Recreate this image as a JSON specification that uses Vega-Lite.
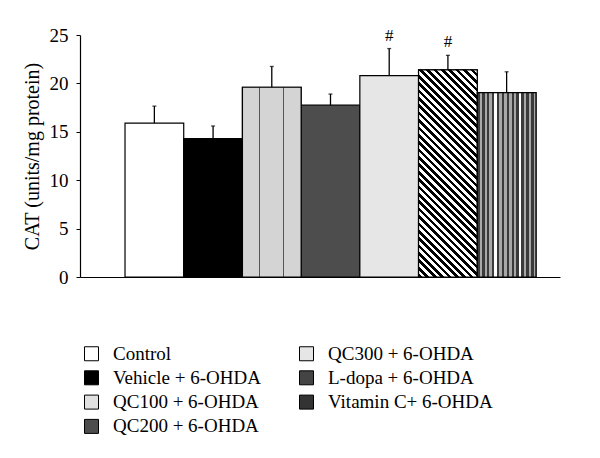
{
  "$schema": "https://vega.github.io/schema/vega-lite/v6.json",
  "width": 480,
  "height": 242,
  "autosize": {"type": "none"},
  "padding": {"left": 80, "top": 35, "right": 40, "bottom": 181},
  "background": "white",
  "config": {
    "view": {"stroke": null},
    "font": "Liberation Serif",
    "axis": {"labelFont": "Liberation Serif", "titleFont": "Liberation Serif", "labelColor": "black", "titleColor": "black", "domainColor": "black", "tickColor": "black", "grid": false}
  },
  "data": {
    "values": [
      {"group": "Control", "cat": 15.9, "upper": 17.65, "sig": ""},
      {"group": "Vehicle + 6-OHDA", "cat": 14.3, "upper": 15.6, "sig": ""},
      {"group": "QC100 + 6-OHDA", "cat": 19.6, "upper": 21.75, "sig": ""},
      {"group": "QC200 + 6-OHDA", "cat": 17.75, "upper": 18.9, "sig": ""},
      {"group": "QC300 + 6-OHDA", "cat": 20.8, "upper": 23.6, "sig": "#"},
      {"group": "L-dopa + 6-OHDA", "cat": 21.4, "upper": 22.9, "sig": "#"},
      {"group": "Vitamin C+ 6-OHDA", "cat": 19.05, "upper": 21.2, "sig": ""}
    ]
  },
  "encoding": {
    "x": {
      "field": "group",
      "type": "nominal",
      "sort": ["Control", "Vehicle + 6-OHDA", "QC100 + 6-OHDA", "QC200 + 6-OHDA", "QC300 + 6-OHDA", "L-dopa + 6-OHDA", "Vitamin C+ 6-OHDA"],
      "scale": {"paddingInner": 0, "paddingOuter": 0.588, "align": 0.652},
      "axis": {"labels": false, "ticks": false, "title": null, "domainWidth": 1.2}
    }
  },
  "layer": [
    {
      "mark": {"type": "bar", "stroke": "black", "strokeWidth": 1.2},
      "encoding": {
        "y": {
          "field": "cat",
          "type": "quantitative",
          "title": "CAT (units/mg protein)",
          "scale": {"domain": [0, 25], "nice": false},
          "axis": {"values": [0, 5, 10, 15, 20, 25], "tickSize": 4, "labelPadding": 8, "labelFontSize": 19, "titleFontSize": 20, "titleFontWeight": "normal", "titleColor": "#000000", "titlePadding": 7, "domainWidth": 1.2}
        },
        "color": {
          "field": "group",
          "type": "nominal",
          "scale": {
            "domain": ["Control", "Vehicle + 6-OHDA", "QC100 + 6-OHDA", "QC200 + 6-OHDA", "QC300 + 6-OHDA", "L-dopa + 6-OHDA", "Vitamin C+ 6-OHDA"],
            "range": ["#ffffff", "#000000", "#e0e0e0", "#4d4d4d", "#e6e6e6", "#444444", "#333333"]
          },
          "legend": {
            "orient": "none", "legendX": 2, "legendY": 309, "columns": 2, "title": null,
            "symbolType": "square", "symbolSize": 196, "symbolStrokeColor": "black", "symbolStrokeWidth": 1,
            "labelFont": "Liberation Serif", "labelFontSize": 19, "labelColor": "black", "labelOffset": 12,
            "columnPadding": 36, "rowPadding": 4.3, "labelLimit": 300, "padding": 0
          }
        }
      }
    },
    {
      "transform": [{"filter": "datum.group == 'QC100 + 6-OHDA'"}],
      "mark": {
        "type": "bar", "stroke": "black", "strokeWidth": 1.2,
        "fill": {"gradient": "linear", "x1": 0, "y1": 0, "x2": 1, "y2": 0, "stops": [
          {"offset": 0, "color": "#d4d4d4"}, {"offset": 0.28, "color": "#d4d4d4"}, {"offset": 0.28, "color": "#555555"}, {"offset": 0.3, "color": "#555555"}, {"offset": 0.3, "color": "#d4d4d4"},
          {"offset": 0.69, "color": "#d4d4d4"}, {"offset": 0.69, "color": "#555555"}, {"offset": 0.71, "color": "#555555"}, {"offset": 0.71, "color": "#d4d4d4"}, {"offset": 1, "color": "#d4d4d4"}
        ]}
      },
      "encoding": {"y": {"field": "cat", "type": "quantitative", "title": "CAT (units/mg protein)"}}
    },
    {
      "transform": [{"filter": "datum.group == 'L-dopa + 6-OHDA'"}],
      "mark": {
        "type": "bar", "stroke": "black", "strokeWidth": 1.2,
        "fill": {"gradient": "linear", "x1": 0, "y1": 1, "x2": 0.3365, "y2": -0.1879, "stops": [
          {"offset": 0, "color": "#000"}, {"offset": 0.0139, "color": "#000"}, {"offset": 0.0139, "color": "#fff"}, {"offset": 0.0278, "color": "#fff"},
          {"offset": 0.0278, "color": "#000"}, {"offset": 0.0417, "color": "#000"}, {"offset": 0.0417, "color": "#fff"}, {"offset": 0.0556, "color": "#fff"},
          {"offset": 0.0556, "color": "#000"}, {"offset": 0.0694, "color": "#000"}, {"offset": 0.0694, "color": "#fff"}, {"offset": 0.0833, "color": "#fff"},
          {"offset": 0.0833, "color": "#000"}, {"offset": 0.0972, "color": "#000"}, {"offset": 0.0972, "color": "#fff"}, {"offset": 0.1111, "color": "#fff"},
          {"offset": 0.1111, "color": "#000"}, {"offset": 0.125, "color": "#000"}, {"offset": 0.125, "color": "#fff"}, {"offset": 0.1389, "color": "#fff"},
          {"offset": 0.1389, "color": "#000"}, {"offset": 0.1528, "color": "#000"}, {"offset": 0.1528, "color": "#fff"}, {"offset": 0.1667, "color": "#fff"},
          {"offset": 0.1667, "color": "#000"}, {"offset": 0.1806, "color": "#000"}, {"offset": 0.1806, "color": "#fff"}, {"offset": 0.1944, "color": "#fff"},
          {"offset": 0.1944, "color": "#000"}, {"offset": 0.2083, "color": "#000"}, {"offset": 0.2083, "color": "#fff"}, {"offset": 0.2222, "color": "#fff"},
          {"offset": 0.2222, "color": "#000"}, {"offset": 0.2361, "color": "#000"}, {"offset": 0.2361, "color": "#fff"}, {"offset": 0.25, "color": "#fff"},
          {"offset": 0.25, "color": "#000"}, {"offset": 0.2639, "color": "#000"}, {"offset": 0.2639, "color": "#fff"}, {"offset": 0.2778, "color": "#fff"},
          {"offset": 0.2778, "color": "#000"}, {"offset": 0.2917, "color": "#000"}, {"offset": 0.2917, "color": "#fff"}, {"offset": 0.3056, "color": "#fff"},
          {"offset": 0.3056, "color": "#000"}, {"offset": 0.3194, "color": "#000"}, {"offset": 0.3194, "color": "#fff"}, {"offset": 0.3333, "color": "#fff"},
          {"offset": 0.3333, "color": "#000"}, {"offset": 0.3472, "color": "#000"}, {"offset": 0.3472, "color": "#fff"}, {"offset": 0.3611, "color": "#fff"},
          {"offset": 0.3611, "color": "#000"}, {"offset": 0.375, "color": "#000"}, {"offset": 0.375, "color": "#fff"}, {"offset": 0.3889, "color": "#fff"},
          {"offset": 0.3889, "color": "#000"}, {"offset": 0.4028, "color": "#000"}, {"offset": 0.4028, "color": "#fff"}, {"offset": 0.4167, "color": "#fff"},
          {"offset": 0.4167, "color": "#000"}, {"offset": 0.4306, "color": "#000"}, {"offset": 0.4306, "color": "#fff"}, {"offset": 0.4444, "color": "#fff"},
          {"offset": 0.4444, "color": "#000"}, {"offset": 0.4583, "color": "#000"}, {"offset": 0.4583, "color": "#fff"}, {"offset": 0.4722, "color": "#fff"},
          {"offset": 0.4722, "color": "#000"}, {"offset": 0.4861, "color": "#000"}, {"offset": 0.4861, "color": "#fff"}, {"offset": 0.5, "color": "#fff"},
          {"offset": 0.5, "color": "#000"}, {"offset": 0.5139, "color": "#000"}, {"offset": 0.5139, "color": "#fff"}, {"offset": 0.5278, "color": "#fff"},
          {"offset": 0.5278, "color": "#000"}, {"offset": 0.5417, "color": "#000"}, {"offset": 0.5417, "color": "#fff"}, {"offset": 0.5556, "color": "#fff"},
          {"offset": 0.5556, "color": "#000"}, {"offset": 0.5694, "color": "#000"}, {"offset": 0.5694, "color": "#fff"}, {"offset": 0.5833, "color": "#fff"},
          {"offset": 0.5833, "color": "#000"}, {"offset": 0.5972, "color": "#000"}, {"offset": 0.5972, "color": "#fff"}, {"offset": 0.6111, "color": "#fff"},
          {"offset": 0.6111, "color": "#000"}, {"offset": 0.625, "color": "#000"}, {"offset": 0.625, "color": "#fff"}, {"offset": 0.6389, "color": "#fff"},
          {"offset": 0.6389, "color": "#000"}, {"offset": 0.6528, "color": "#000"}, {"offset": 0.6528, "color": "#fff"}, {"offset": 0.6667, "color": "#fff"},
          {"offset": 0.6667, "color": "#000"}, {"offset": 0.6806, "color": "#000"}, {"offset": 0.6806, "color": "#fff"}, {"offset": 0.6944, "color": "#fff"},
          {"offset": 0.6944, "color": "#000"}, {"offset": 0.7083, "color": "#000"}, {"offset": 0.7083, "color": "#fff"}, {"offset": 0.7222, "color": "#fff"},
          {"offset": 0.7222, "color": "#000"}, {"offset": 0.7361, "color": "#000"}, {"offset": 0.7361, "color": "#fff"}, {"offset": 0.75, "color": "#fff"},
          {"offset": 0.75, "color": "#000"}, {"offset": 0.7639, "color": "#000"}, {"offset": 0.7639, "color": "#fff"}, {"offset": 0.7778, "color": "#fff"},
          {"offset": 0.7778, "color": "#000"}, {"offset": 0.7917, "color": "#000"}, {"offset": 0.7917, "color": "#fff"}, {"offset": 0.8056, "color": "#fff"},
          {"offset": 0.8056, "color": "#000"}, {"offset": 0.8194, "color": "#000"}, {"offset": 0.8194, "color": "#fff"}, {"offset": 0.8333, "color": "#fff"},
          {"offset": 0.8333, "color": "#000"}, {"offset": 0.8472, "color": "#000"}, {"offset": 0.8472, "color": "#fff"}, {"offset": 0.8611, "color": "#fff"},
          {"offset": 0.8611, "color": "#000"}, {"offset": 0.875, "color": "#000"}, {"offset": 0.875, "color": "#fff"}, {"offset": 0.8889, "color": "#fff"},
          {"offset": 0.8889, "color": "#000"}, {"offset": 0.9028, "color": "#000"}, {"offset": 0.9028, "color": "#fff"}, {"offset": 0.9167, "color": "#fff"},
          {"offset": 0.9167, "color": "#000"}, {"offset": 0.9306, "color": "#000"}, {"offset": 0.9306, "color": "#fff"}, {"offset": 0.9444, "color": "#fff"},
          {"offset": 0.9444, "color": "#000"}, {"offset": 0.9583, "color": "#000"}, {"offset": 0.9583, "color": "#fff"}, {"offset": 0.9722, "color": "#fff"},
          {"offset": 0.9722, "color": "#000"}, {"offset": 0.9861, "color": "#000"}, {"offset": 0.9861, "color": "#fff"}, {"offset": 1, "color": "#fff"}
        ]}
      },
      "encoding": {"y": {"field": "cat", "type": "quantitative", "title": "CAT (units/mg protein)"}}
    },
    {
      "transform": [{"filter": "datum.group == 'Vitamin C+ 6-OHDA'"}],
      "mark": {
        "type": "bar", "stroke": "black", "strokeWidth": 1.2,
        "fill": {"gradient": "linear", "x1": 0, "y1": 0, "x2": 1, "y2": 0, "stops": [
          {"offset": 0, "color": "#3a3a3a"}, {"offset": 0.0417, "color": "#3a3a3a"}, {"offset": 0.0417, "color": "#a8a8a8"}, {"offset": 0.0833, "color": "#a8a8a8"},
          {"offset": 0.0833, "color": "#3a3a3a"}, {"offset": 0.125, "color": "#3a3a3a"}, {"offset": 0.125, "color": "#a8a8a8"}, {"offset": 0.1667, "color": "#a8a8a8"},
          {"offset": 0.1667, "color": "#3a3a3a"}, {"offset": 0.2083, "color": "#3a3a3a"}, {"offset": 0.2083, "color": "#a8a8a8"}, {"offset": 0.25, "color": "#a8a8a8"},
          {"offset": 0.25, "color": "#3a3a3a"}, {"offset": 0.2917, "color": "#3a3a3a"}, {"offset": 0.2917, "color": "#ffffff"}, {"offset": 0.3333, "color": "#ffffff"},
          {"offset": 0.3333, "color": "#3a3a3a"}, {"offset": 0.375, "color": "#3a3a3a"}, {"offset": 0.375, "color": "#a8a8a8"}, {"offset": 0.4167, "color": "#a8a8a8"},
          {"offset": 0.4167, "color": "#3a3a3a"}, {"offset": 0.4583, "color": "#3a3a3a"}, {"offset": 0.4583, "color": "#a8a8a8"}, {"offset": 0.5, "color": "#a8a8a8"},
          {"offset": 0.5, "color": "#3a3a3a"}, {"offset": 0.5417, "color": "#3a3a3a"}, {"offset": 0.5417, "color": "#a8a8a8"}, {"offset": 0.5833, "color": "#a8a8a8"},
          {"offset": 0.5833, "color": "#3a3a3a"}, {"offset": 0.625, "color": "#3a3a3a"}, {"offset": 0.625, "color": "#a8a8a8"}, {"offset": 0.6667, "color": "#a8a8a8"},
          {"offset": 0.6667, "color": "#3a3a3a"}, {"offset": 0.7083, "color": "#3a3a3a"}, {"offset": 0.7083, "color": "#ffffff"}, {"offset": 0.75, "color": "#ffffff"},
          {"offset": 0.75, "color": "#3a3a3a"}, {"offset": 0.7917, "color": "#3a3a3a"}, {"offset": 0.7917, "color": "#a8a8a8"}, {"offset": 0.8333, "color": "#a8a8a8"},
          {"offset": 0.8333, "color": "#3a3a3a"}, {"offset": 0.875, "color": "#3a3a3a"}, {"offset": 0.875, "color": "#a8a8a8"}, {"offset": 0.9167, "color": "#a8a8a8"},
          {"offset": 0.9167, "color": "#3a3a3a"}, {"offset": 0.9583, "color": "#3a3a3a"}, {"offset": 0.9583, "color": "#a8a8a8"}, {"offset": 1, "color": "#a8a8a8"}
        ]}
      },
      "encoding": {"y": {"field": "cat", "type": "quantitative", "title": "CAT (units/mg protein)"}}
    },
    {
      "mark": {"type": "rule", "color": "black", "strokeWidth": 1.3},
      "encoding": {
        "y": {"field": "cat", "type": "quantitative", "title": "CAT (units/mg protein)"},
        "y2": {"field": "upper"}
      }
    },
    {
      "mark": {"type": "tick", "color": "black", "size": 4, "thickness": 1.3},
      "encoding": {"y": {"field": "upper", "type": "quantitative", "title": "CAT (units/mg protein)"}}
    },
    {
      "mark": {"type": "text", "color": "black", "font": "Liberation Serif", "fontSize": 17, "baseline": "alphabetic", "dy": -8},
      "encoding": {
        "y": {"field": "upper", "type": "quantitative", "title": "CAT (units/mg protein)"},
        "text": {"field": "sig"}
      }
    }
  ]
}
